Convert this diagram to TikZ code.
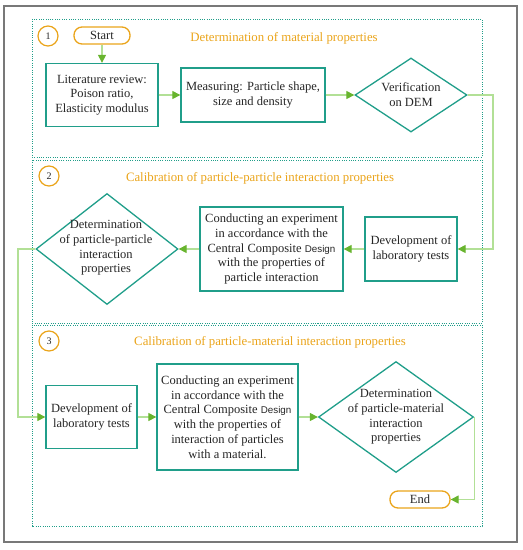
\documentclass[tikz,border=0pt]{standalone}
\usepackage{fontspec}
\setmainfont{Liberation Serif}
\newfontfamily\dsans{Liberation Sans}
\usetikzlibrary{arrows.meta,shapes.geometric}
\definecolor{teal1}{RGB}{32,158,138}
\definecolor{lgreen}{RGB}{178,224,150}
\definecolor{dgreen}{RGB}{104,180,46}
\definecolor{orng}{RGB}{234,164,26}
\definecolor{frame}{RGB}{120,120,120}
\begin{document}
\begin{tikzpicture}[x=1pt,y=-1pt,
  every node/.style={font=\fontsize{12.5}{14.7}\selectfont, text=black!85},
  box/.style={draw=teal1, line width=1.3pt, fill=white, align=center, inner sep=0pt},
  dia/.style={draw=teal1, line width=1.3pt, diamond, inner sep=0pt},
  term/.style={draw=orng, line width=1.3pt, rounded corners=8pt, inner sep=0pt, minimum width=56pt, minimum height=17pt},
  num/.style={draw=orng, line width=1.2pt, circle, minimum size=20pt, inner sep=0pt, font=\fontsize{10}{12}\selectfont},
  ttl/.style={text=orng, font=\fontsize{12.8}{15}\selectfont},
  sect/.style={draw=teal1, line width=1pt, dash pattern=on 1pt off 1.3pt},
  conn/.style={draw=lgreen, line width=1.1pt, -{Triangle[length=8pt,width=8pt,color=dgreen,fill=dgreen]}}
]
\useasboundingbox (0,0) rectangle (523,550);
\draw[frame, line width=1.3pt] (4,6) rectangle (517,542);
\draw[sect] (32,19) rectangle (482,157);
\draw[sect] (32,160) rectangle (482,323);
\draw[sect] (32,325) rectangle (482,526);

% section 1
\node[num] (n1) at (48,36) {1};
\node[ttl] (t1) at (284,38) {Determination of material properties};
\node[term] (start) at (102,35.5) {Start};
\node[box, minimum width=112pt, minimum height=63pt] (lit) at (102,95) {Literature review:\\Poison ratio,\\Elasticity modulus};
\node[box, minimum width=144pt, minimum height=54pt] (meas) at (253,95) {Measuring: Particle shape,\\size and density};
\node[dia, minimum width=112pt, minimum height=74pt] (ver) at (411,95) {};
\node[align=center] (tver) at (411,95) {Verification\\on DEM};

% section 2
\node[num] (n2) at (49,176) {2};
\node[ttl] (t2) at (260,178) {Calibration of particle-particle interaction properties};
\node[dia, minimum width=142pt, minimum height=111pt] (det2) at (107,249) {};
\node[align=center] (tdet2) at (106,248) {Determination\\of particle-particle\\interaction\\properties};
\node[box, minimum width=143pt, minimum height=84pt] (cond2) at (271.5,249) {Conducting an experiment\\in accordance with the\\Central Composite {\dsans\fontsize{9.8}{14}\selectfont Design}\\with the properties of\\particle interaction};
\node[box, minimum width=92pt, minimum height=64pt] (dev2) at (411,249) {Development of\\laboratory tests};

% section 3
\node[num] (n3) at (49,341) {3};
\node[ttl] (t3) at (270,342) {Calibration of particle-material interaction properties};
\node[box, minimum width=91pt, minimum height=63pt] (dev3) at (91.5,417) {Development of\\laboratory tests};
\node[box, minimum width=141pt, minimum height=106pt] (cond3) at (227.5,417) {Conducting an experiment\\in accordance with the\\Central Composite {\dsans\fontsize{9.8}{14}\selectfont Design}\\with the properties of\\interaction of particles\\with a material.};
\node[dia, minimum width=155pt, minimum height=111pt] (det3) at (396,417) {};
\node[align=center] (tdet3) at (396,417) {Determination\\of particle-material\\interaction\\properties};
\node[term, minimum width=60pt] (endn) at (420,499.5) {End};

% connectors
\coordinate (c1) at (493,95);
\coordinate (c2) at (18,249);
\draw[conn] (start.south) -- (lit.north);
\draw[conn] (lit.east) -- (meas.west);
\draw[conn] (meas.east) -- (ver.west);
\draw[conn] (ver.east) -- (c1) |- (dev2.east);
\draw[conn] (dev2.west) -- (cond2.east);
\draw[conn] (cond2.west) -- (det2.east);
\draw[conn] (det2.west) -- (c2) |- (dev3.west);
\draw[conn] (dev3.east) -- (cond3.west);
\draw[conn] (cond3.east) -- (det3.west);
\draw[conn] (det3.east) |- (endn.east);
\end{tikzpicture}
\end{document}
